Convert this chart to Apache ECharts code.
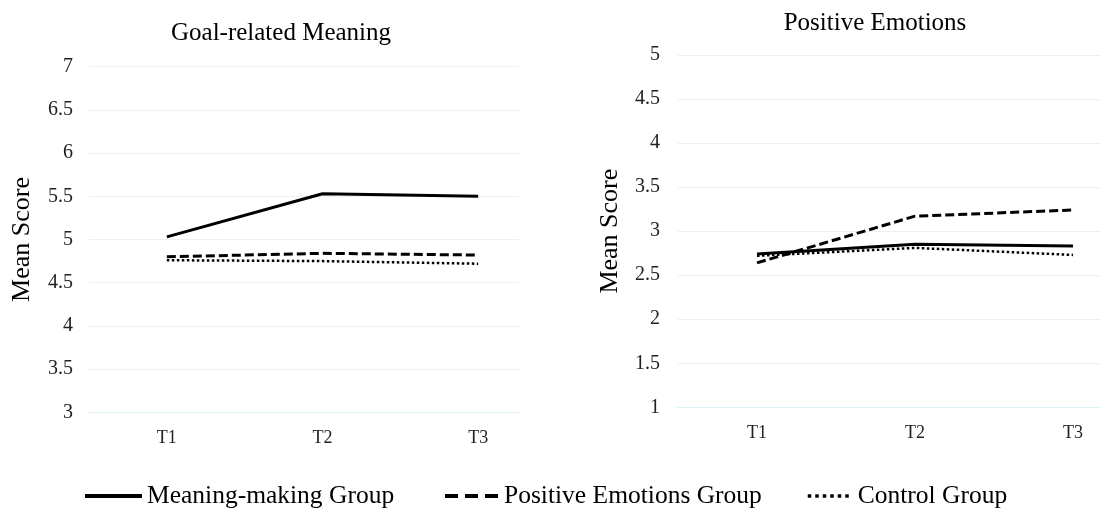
<!DOCTYPE html>
<html>
<head>
<meta charset="utf-8">
<script src="https://cdn.jsdelivr.net/npm/echarts@6/dist/echarts.min.js"></script>
<style>html,body{margin:0;padding:0;background:#fff;}#c{width:1100px;height:510px;}</style>
</head>
<body>
<div id="c"></div>
<script>
const categories = ['T1', 'T2', 'T3'];
const seriesNames = ['Meaning-making Group', 'Positive Emotions Group', 'Control Group'];
// Goal-related Meaning
const goalMeaning = [5.03, 5.53, 5.50];
const goalPositive = [4.80, 4.84, 4.82];
const goalControl = [4.76, 4.75, 4.72];
// Positive Emotions
const emoMeaning = [2.74, 2.85, 2.83];
const emoPositive = [2.64, 3.17, 3.24];
const emoControl = [2.72, 2.81, 2.73];

const FONT = '"Liberation Serif", "DejaVu Serif", serif';
const styles = [
  { type: 'solid', width: 3 },
  { type: [9, 4], width: 3 },
  { type: [2.5, 2.5], width: 2.5 }
];
function mk(name, data, axisIdx, si) {
  return {
    name: name, type: 'line', xAxisIndex: axisIdx, yAxisIndex: axisIdx,
    data: data, symbol: 'none', showSymbol: false, silent: true,
    lineStyle: { color: '#000', width: styles[si].width, type: styles[si].type, cap: 'butt' },
    itemStyle: { color: '#000' }
  };
}
function yAx(gi, min, max, gap, margin) {
  return {
    type: 'value', gridIndex: gi, min: min, max: max, interval: 0.5,
    name: 'Mean Score', nameLocation: 'middle', nameRotate: 90, nameGap: gap,
    nameTextStyle: { fontFamily: FONT, fontSize: 26, color: '#000' },
    axisLine: { show: false }, axisTick: { show: false },
    axisLabel: { fontFamily: FONT, fontSize: 20, color: '#222', margin: margin },
    splitLine: { lineStyle: { color: '#efefef', width: 1 } }
  };
}
function xAx(gi) {
  return {
    type: 'category', gridIndex: gi, data: categories, boundaryGap: true,
    axisLine: { lineStyle: { color: '#d8f4f6', width: 1 } }, axisTick: { show: false },
    axisLabel: { fontFamily: FONT, fontSize: 18, color: '#222', margin: 17 },
    splitLine: { show: false }
  };
}
function lg(name, left, w, ls) {
  return {
    data: [name], left: left, top: 478, itemWidth: w, itemHeight: 14,
    itemStyle: { opacity: 0 },
    lineStyle: ls,
    textStyle: { fontFamily: FONT, fontSize: 25.5, color: '#000' }
  };
}
const chart = echarts.init(document.getElementById('c'));
chart.setOption({
  backgroundColor: '#fff',
  animation: false,
  title: [
    { text: 'Goal-related Meaning', left: 276, top: 16, textAlign: 'center',
      textStyle: { fontFamily: FONT, fontSize: 25, fontWeight: 'normal', color: '#000' } },
    { text: 'Positive Emotions', left: 870, top: 6, textAlign: 'center',
      textStyle: { fontFamily: FONT, fontSize: 25, fontWeight: 'normal', color: '#000' } }
  ],
  legend: [
    lg(seriesNames[0], 78, 57, { width: 4, type: 'solid' }),
    lg(seriesNames[1], 438, 54, { width: 4, type: [13, 7] }),
    lg(seriesNames[2], 801, 45, { width: 3.5, type: [3.5, 4] })
  ],
  grid: [
    { left: 89, width: 467, top: 66.7, height: 412.3 - 66.7, outerBoundsMode: 'none' },
    { left: 678, width: 474, top: 55, height: 407.3 - 55, outerBoundsMode: 'none' }
  ],
  xAxis: [xAx(0), xAx(1)],
  yAxis: [yAx(0, 3, 7, 54, 16), yAx(1, 1, 5, 55, 18)],
  graphic: [
    { type: 'rect', z: 100, shape: { x: 519, y: 50, width: 45, height: 370 }, style: { fill: '#fff' } }
  ],
  series: [
    mk(seriesNames[0], goalMeaning, 0, 0),
    mk(seriesNames[1], goalPositive, 0, 1),
    mk(seriesNames[2], goalControl, 0, 2),
    mk(seriesNames[0], emoMeaning, 1, 0),
    mk(seriesNames[1], emoPositive, 1, 1),
    mk(seriesNames[2], emoControl, 1, 2)
  ]
});
</script>
</body>
</html>
